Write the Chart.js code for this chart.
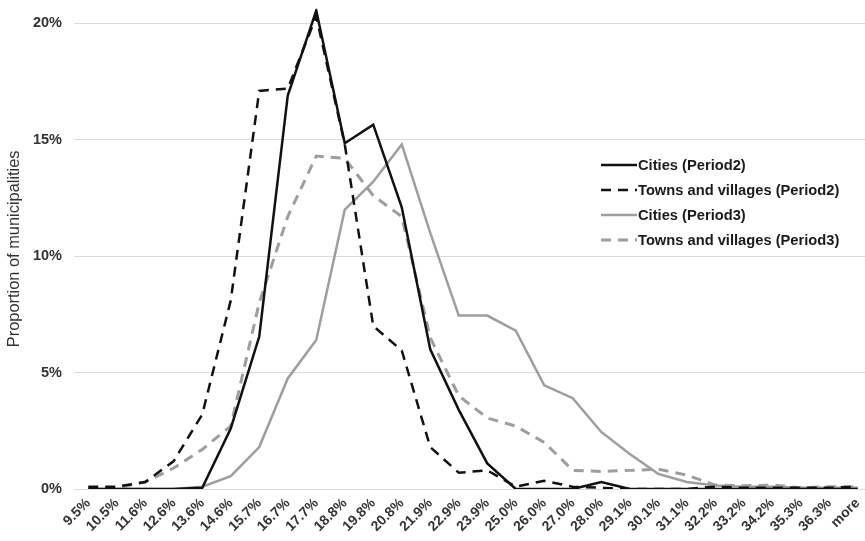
<!DOCTYPE html>
<html>
<head>
<meta charset="utf-8">
<script src="https://cdn.jsdelivr.net/npm/chart.js@4/dist/chart.umd.min.js"></script>
<style>
  html, body { margin: 0; padding: 0; background: #fff; overflow: hidden; }
  #wrap { width: 865px; height: 541px; overflow: hidden; }
</style>
</head>
<body>
<div id="wrap"><canvas id="myChart" width="880" height="541"></canvas></div>
<script>
// categories (x axis)
const labels = ["9.5%", "10.5%", "11.6%", "12.6%", "13.6%", "14.6%", "15.7%", "16.7%", "17.7%", "18.8%",
  "19.8%", "20.8%", "21.9%", "22.9%", "23.9%", "25.0%", "26.0%", "27.0%", "28.0%", "29.1%",
  "30.1%", "31.1%", "32.2%", "33.2%", "34.2%", "35.3%", "36.3%", "more"];

// series, in percent of municipalities
const citiesP2 = [0, 0, 0, 0, 0.05, 2.6, 6.55, 16.9, 20.55, 14.85, 15.65, 12.1, 6.0, 3.4,
  1.1, 0, 0, 0, 0.3, 0, 0, 0, 0, 0, 0, 0, 0, 0];
const townsP2 = [0.1, 0.1, 0.3, 1.2, 3.2, 8.1, 17.1, 17.2, 20.3, 14.8, 7.0, 5.95, 1.8, 0.7,
  0.8, 0.1, 0.35, 0.1, 0.05, 0, 0, 0, 0.1, 0.05, 0.05, 0.05, 0.05, 0.1];
const citiesP3 = [0, 0, 0, 0, 0.1, 0.55, 1.8, 4.75, 6.4, 12.0, 13.2, 14.8, 11.0, 7.45,
  7.45, 6.8, 4.45, 3.9, 2.45, 1.5, 0.65, 0.3, 0.15, 0.1, 0.1, 0.05, 0.05, 0.05];
const townsP3 = [0, 0.05, 0.3, 0.9, 1.7, 2.7, 8.0, 11.7, 14.3, 14.2, 12.6, 11.7, 6.5, 4.0,
  3.05, 2.7, 2.0, 0.8, 0.75, 0.8, 0.85, 0.6, 0.17, 0.14, 0.17, 0.05, 0.1, 0.1];

const yTicks = [0, 5, 10, 15, 20];
const yMax = 20.63;

const gray = "#9e9e9e";
const dash = [10, 7];
const fontFamily = "'Liberation Sans', Arial, sans-serif";

// legend drawn inside the plot area, like the original
const insideLegend = {
  id: "insideLegend",
  afterDatasetsDraw(chart) {
    const ctx = chart.ctx;
    const x0 = 601, x1 = 637;
    const rows = [165, 190, 215, 240];
    ctx.save();
    ctx.font = "bold 14.7px " + fontFamily;
    ctx.textBaseline = "middle";
    chart.data.datasets.forEach((ds, i) => {
      const y = rows[i];
      ctx.beginPath();
      ctx.strokeStyle = ds.borderColor;
      ctx.lineWidth = ds.borderWidth;
      ctx.setLineDash(ds.borderDash || []);
      ctx.moveTo(x0, y);
      ctx.lineTo(x1, y);
      ctx.stroke();
      ctx.setLineDash([]);
      ctx.fillStyle = "#1a1a1a";
      ctx.fillText(ds.label, x1 + 1, y + 1);
    });
    ctx.restore();
  }
};

const data = {
  labels: labels,
  datasets: [
    {
      label: "Cities (Period2)",
      data: citiesP2,
      borderColor: "#111111",
      borderWidth: 2.5,
      fill: false,
    },
    {
      label: "Towns and villages (Period2)",
      data: townsP2,
      borderColor: "#111111",
      borderWidth: 2.5,
      borderDash: dash,
      fill: false,
    },
    {
      label: "Cities (Period3)",
      data: citiesP3,
      borderColor: gray,
      borderWidth: 2.5,
      fill: false,
    },
    {
      label: "Towns and villages (Period3)",
      data: townsP3,
      borderColor: gray,
      borderWidth: 3,
      borderDash: dash,
      fill: false,
    },
  ],
};

//config
const config = {
  type: "line",
  data: data,
  plugins: [insideLegend],
  options: {
    responsive: false,
    animation: false,
    elements: {
      point: { radius: 0 },
      line: { tension: 0 },
    },
    layout: {
      padding: { top: 1, left: 0, right: 8, bottom: 0 },
    },
    plugins: {
      legend: { display: false },
      tooltip: { enabled: false },
    },
    scales: {
      x: {
        offset: true,
        grid: { display: false, drawTicks: false },
        border: { display: false },
        afterFit(axis) { axis.height = 52; },
        ticks: {
          autoSkip: false,
          minRotation: 45,
          maxRotation: 45,
          padding: 6,
          color: "#333333",
          font: { family: fontFamily, size: 14, weight: "bold" },
        },
      },
      y: {
        min: 0,
        max: yMax,
        afterFit(axis) { axis.width = 74; },
        // top tick only closes the range; it has no label and no line
        afterBuildTicks(axis) { axis.ticks = yTicks.concat([yMax]).map(v => ({ value: v })); },
        grid: {
          color: (c) => (yTicks.includes(c.tick.value) ? "#dcdcdc" : "transparent"),
          lineWidth: 1,
          drawTicks: true,
          tickLength: 12,
          tickColor: "transparent",
        },
        border: { display: false },
        title: {
          display: true,
          text: "Proportion of municipalities",
          color: "#333333",
          padding: { top: 5, bottom: 0 },
          font: { family: fontFamily, size: 16.4 },
        },
        ticks: {
          padding: 0,
          color: "#333333",
          callback: (v) => (yTicks.includes(v) ? v + "%" : null),
          font: { family: fontFamily, size: 14.5, weight: "bold" },
        },
      },
    },
  },
};

const ctx = document.getElementById("myChart").getContext("2d");
new Chart(ctx, config);
</script>
</body>
</html>
